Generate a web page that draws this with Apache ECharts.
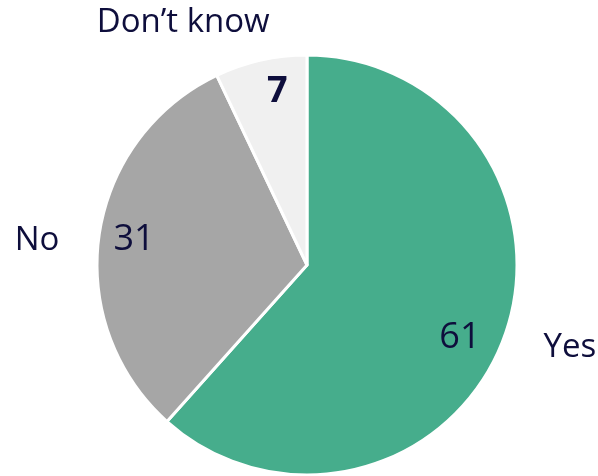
<!DOCTYPE html>
<html>
<head>
<meta charset="utf-8">
<script src="https://cdn.jsdelivr.net/npm/echarts@6/dist/echarts.min.js"></script>
<style>
  html, body { margin: 0; padding: 0; background: #ffffff; }
  #chart { width: 598px; height: 476px; }
</style>
</head>
<body>
<div id="chart"></div>
<script>
// Survey answers, clockwise from the top
const categories = ['Yes', 'No', 'Don\u2019t know'];
const values = [61, 31, 7];
const sliceColors = ['#46AD8C', '#A6A6A6', '#F0F0F0'];

// Label nudges from the default inside position (value labels, then category names)
const valueShift = [[52, 34], [-66, -10], [-6, -68]];
const nameShift = [[162, 44], [-163, -9], [-100, -137]];
const valueWeight = ['normal', 'normal', 'bold'];

const textColor = '#0E0E3C';
const fontFamily = '"Open Sans", "Liberation Sans", sans-serif';

const pieData = categories.map((name, i) => ({
  name: name,
  value: values[i],
  itemStyle: { color: sliceColors[i] },
  label: { fontWeight: valueWeight[i] }
}));

const chart = echarts.init(document.getElementById('chart'), null, { renderer: 'canvas' });

const base = {
  type: 'pie',
  center: [307, 265],
  radius: [0, 210],
  startAngle: 90,
  clockwise: true,
  animation: false,
  silent: true
};

chart.setOption({
  backgroundColor: '#ffffff',
  series: [
    Object.assign({}, base, {
      name: 'values',
      itemStyle: { borderColor: '#ffffff', borderWidth: 3 },
      label: {
        show: true,
        position: 'inside',
        formatter: '{c}',
        color: textColor,
        fontFamily: fontFamily,
        fontSize: 36
      },
      labelLayout: function (p) {
        const s = valueShift[p.dataIndex];
        return { dx: s[0], dy: s[1] };
      },
      data: pieData
    }),
    Object.assign({}, base, {
      name: 'names',
      itemStyle: { color: 'rgba(0,0,0,0)', borderWidth: 0 },
      label: {
        show: true,
        position: 'inside',
        formatter: '{b}',
        color: textColor,
        fontFamily: fontFamily,
        fontSize: 33
      },
      labelLayout: function (p) {
        const s = nameShift[p.dataIndex];
        return { dx: s[0], dy: s[1] };
      },
      data: categories.map((name, i) => ({ name: name, value: values[i] }))
    })
  ]
});
</script>
</body>
</html>
